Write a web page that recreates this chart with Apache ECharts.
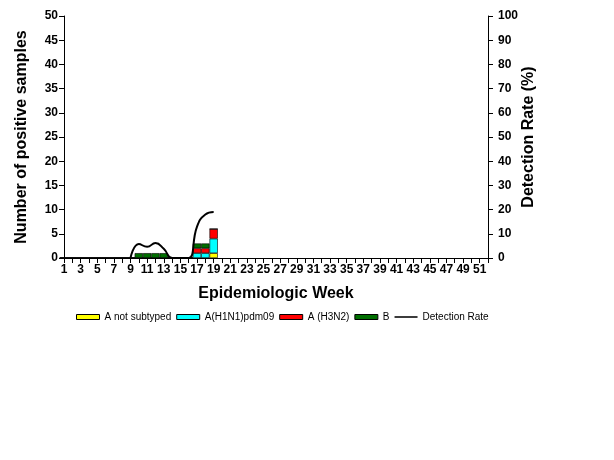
<!DOCTYPE html>
<html>
<head>
<meta charset="utf-8">
<script src="https://cdn.jsdelivr.net/npm/echarts@6/dist/echarts.min.js"></script>
<style>
html, body { margin: 0; padding: 0; background: #fff; }
#chart { width: 614px; height: 460px; }
</style>
</head>
<body>
<div id="chart"></div>
<script>
// weeks 1..52
var weeks = [];
for (var w = 1; w <= 52; w++) weeks.push(String(w));

// positive samples per week (only weeks 9-19 have anything)
var notSubtyped = [0,0,0,0,0,0,0,0,0,0,0,0,0,0,0,0,0,0,1];
var h1n1 = [0,0,0,0,0,0,0,0,0,0,0,0,0,0,0,0,1,1,3];
var h3n2 = [0,0,0,0,0,0,0,0,0,0,0,0,0,0,0,0,1,1,2];
var fluB = [0,0,0,0,0,0,0,0,0,1,1,1,1,0,0,0,1,1,0];
// detection rate (%), null = not drawn
var detRate = [null,null,null,null,null,null,null,null,0,5.8,4.6,6.2,3.8,0,0,0,13,18,19];

var seriesNames = ['A not subtyped', 'A(H1N1)pdm09', 'A (H3N2)', 'B', 'Detection Rate'];
var font = 'Liberation Sans, Arial, sans-serif';

function barSeries(name, data, color) {
	return {
		name: name,
		type: 'bar',
		stack: 'pos',
		data: data,
		barWidth: '100%',
		itemStyle: {
			color: color,
			borderColor: '#000',
			borderWidth: 0.6
		}
	};
}

var chart = echarts.init(document.getElementById('chart'));
var option = {
	animation: false,
	backgroundColor: '#fff',
	grid: { left: 64, right: 126, top: 16, bottom: 202 },
	legend: {
		left: 71,
		top: 307,
		itemWidth: 23,
		itemHeight: 5,
		itemGap: 5,
		itemStyle: { borderColor: '#000', borderWidth: 1 },
		data: [
			{ name: seriesNames[0], icon: 'rect' },
			{ name: seriesNames[1], icon: 'rect' },
			{ name: seriesNames[2], icon: 'rect' },
			{ name: seriesNames[3], icon: 'rect' },
			{ name: seriesNames[4], icon: 'path://M0,0 L30,0 L30,2 L0,2 Z', itemStyle: { borderWidth: 0 } }
		],
		textStyle: { fontFamily: font, fontSize: 10, color: '#000' }
	},
	xAxis: {
		type: 'category',
		data: weeks,
		boundaryGap: false,
		name: 'Epidemiologic Week',
		nameLocation: 'middle',
		nameGap: 28,
		nameTextStyle: { fontFamily: font, fontSize: 16, fontWeight: 'bold', color: '#000' },
		axisLine: { lineStyle: { color: '#000', width: 1 } },
		axisTick: { show: true, interval: 0, length: 5, lineStyle: { color: '#000' } },
		axisLabel: { interval: 1, fontFamily: font, fontSize: 12, fontWeight: 'bold', color: '#000', margin: 6 },
		splitLine: { show: false }
	},
	yAxis: [{
		type: 'value',
		min: 0,
		max: 50,
		interval: 5,
		name: 'Number of positive samples',
		nameLocation: 'middle',
		nameGap: 34,
		nameTextStyle: { fontFamily: font, fontSize: 16, fontWeight: 'bold', color: '#000' },
		axisLine: { show: true, lineStyle: { color: '#000' } },
		axisTick: { show: true, length: 5, lineStyle: { color: '#000' } },
		axisLabel: { fontFamily: font, fontSize: 12, fontWeight: 'bold', color: '#000', margin: 6 },
		splitLine: { show: false }
	}, {
		type: 'value',
		min: 0,
		max: 100,
		interval: 10,
		name: 'Detection Rate (%)',
		nameLocation: 'middle',
		nameGap: 33,
		nameMoveOverlap: false,
		nameRotate: 90,
		nameTextStyle: { fontFamily: font, fontSize: 16, fontWeight: 'bold', color: '#000' },
		axisLine: { show: true, lineStyle: { color: '#000' } },
		axisTick: { show: true, length: 5, lineStyle: { color: '#000' } },
		axisLabel: { fontFamily: font, fontSize: 12, fontWeight: 'bold', color: '#000', margin: 10 },
		splitLine: { show: false }
	}],
	series: [
		barSeries(seriesNames[0], notSubtyped, '#ffff00'),
		barSeries(seriesNames[1], h1n1, '#00ffff'),
		barSeries(seriesNames[2], h3n2, '#ff0000'),
		barSeries(seriesNames[3], fluB, '#006e00'),
		{
			name: seriesNames[4],
			type: 'line',
			yAxisIndex: 1,
			data: detRate,
			smooth: 0.5,
			showSymbol: false,
			symbol: 'none',
			itemStyle: { color: '#000' },
			lineStyle: { color: '#000', width: 2 }
		}
	]
};
chart.setOption(option);
</script>
</body>
</html>
